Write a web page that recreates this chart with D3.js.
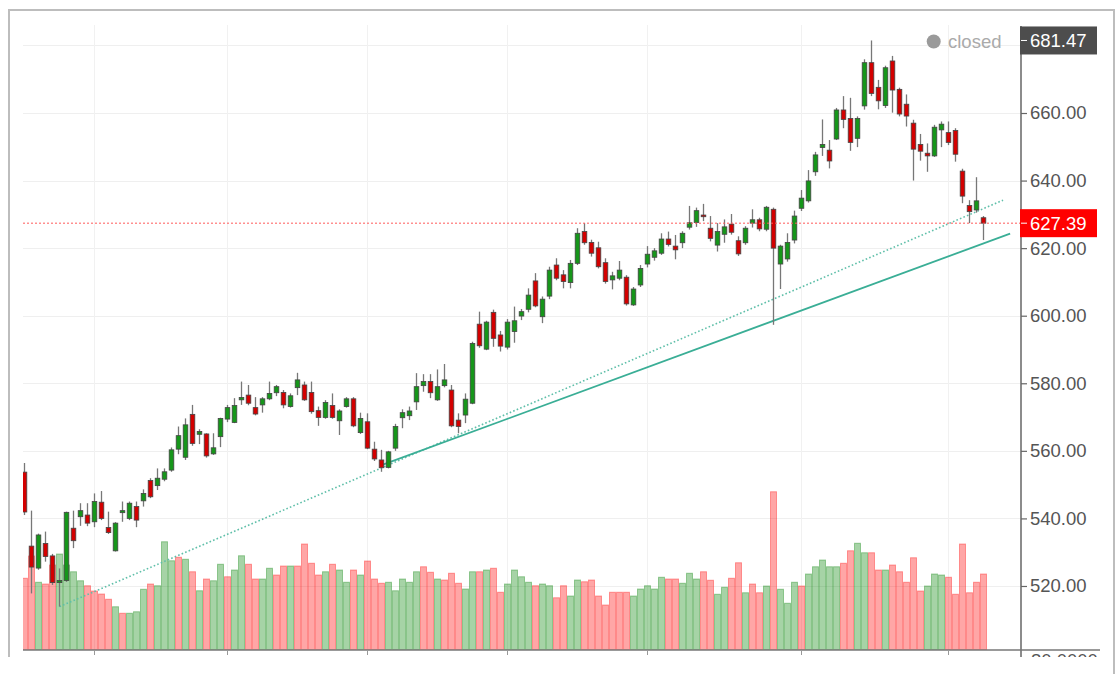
<!DOCTYPE html>
<html><head><meta charset="utf-8">
<script src="https://cdn.jsdelivr.net/npm/d3@7"></script>
<style>
body{margin:0;background:#fff;}
svg{display:block;font-family:"Liberation Sans",Arial,sans-serif;}
</style>
</head><body>
<svg id="chart" width="1120" height="674"></svg>
<script>
// ---- DATA (daily candles, index 0..137) ----
const open = [553.7,531.8,525.3,532.6,528.9,521.0,521.6,537.1,540.5,541.0,
539.0,544.8,537.3,530.4,541.7,540.0,543.5,545.2,551.2,549.7,
551.6,554.3,560.5,558.1,570.8,564.9,565.0,559.1,564.2,569.4,
568.4,575.1,576.5,572.8,573.6,575.4,577.2,577.3,573.1,578.7,
579.5,577.3,571.9,569.9,573.4,568.9,573.1,575.4,565.4,568.6,
560.5,557.3,555.1,560.8,569.8,570.4,574.5,579.3,580.5,575.1,
579.3,578.0,569.1,570.6,574.1,597.5,590.1,601.0,594.3,590.7,
595.3,599.9,601.9,610.3,599.7,605.8,615.0,612.1,609.8,615.5,
624.9,621.7,620.1,615.7,610.6,611.1,611.4,603.2,609.1,615.3,
617.3,618.5,622.7,620.6,621.6,626.2,627.6,629.8,625.9,620.9,
624.1,627.1,622.2,621.6,627.4,628.4,625.6,631.5,615.3,616.8,
622.4,631.8,634.0,642.6,649.8,649.0,652.3,660.9,658.4,652.5,
662.1,674.9,667.6,662.2,675.4,667.0,662.6,657.0,650.7,648.1,
647.3,655.0,654.2,654.8,642.8,632.6,631.3,629.0];
const high = [556.4,542.3,535.5,536.1,529.5,525.2,542.0,542.3,544.5,544.5,
547.4,548.1,542.0,538.9,545.0,545.0,545.0,548.6,551.9,554.8,
554.8,561.0,567.2,569.6,573.6,566.4,565.2,565.2,569.8,573.6,
575.6,580.5,579.5,575.9,575.9,580.5,579.5,578.0,577.0,583.1,
580.5,580.5,573.1,575.0,577.0,572.3,575.9,575.9,571.3,571.1,
562.7,560.3,560.0,568.0,572.3,573.1,583.0,582.7,582.7,584.1,
585.7,579.5,571.1,577.0,592.3,601.2,598.5,601.8,595.5,599.0,
602.7,602.0,608.1,612.6,605.7,614.5,617.0,613.5,616.5,625.9,
627.4,622.5,621.9,617.0,613.0,616.2,612.0,608.5,615.0,620.6,
620.0,624.4,624.9,623.9,625.0,632.5,632.0,633.1,629.5,627.4,
628.5,630.1,623.5,626.5,631.5,629.0,632.5,632.0,621.0,624.4,
631.1,637.2,643.1,648.5,658.1,652.0,661.5,665.0,664.5,659.0,
675.9,681.47,669.8,674.0,676.9,667.5,665.5,658.0,653.8,651.0,
656.5,657.5,657.5,655.5,643.5,634.2,641.0,629.5];
const low = [541.0,517.8,524.8,527.2,520.3,513.9,521.2,531.2,537.8,537.7,
537.4,539.5,535.4,530.2,539.0,539.5,537.4,543.5,546.0,548.4,
551.0,553.8,559.0,557.3,561.5,562.0,558.0,558.8,561.1,568.5,
568.2,573.6,573.5,570.5,571.3,575.0,576.2,572.6,572.8,576.5,
574.8,571.0,567.4,569.5,569.5,564.7,572.8,567.0,565.0,560.5,
557.0,553.8,554.8,560.0,566.7,569.1,572.1,577.5,575.6,574.8,
578.8,567.0,565.2,568.2,573.8,590.5,589.8,590.8,589.4,590.0,
592.0,598.7,601.0,602.5,597.8,604.9,610.5,608.1,608.1,615.0,
621.0,617.5,614.0,609.5,607.8,610.5,603.0,602.9,608.5,614.3,
616.3,618.0,620.5,616.7,620.0,625.5,626.3,628.0,622.0,619.0,
621.6,624.0,617.7,621.0,626.1,625.0,625.0,597.3,607.9,616.0,
621.4,631.0,633.5,641.4,647.3,643.6,652.0,655.5,648.8,649.9,
661.0,665.0,661.1,661.5,660.1,659.0,656.0,640.0,645.9,642.6,
647.0,649.9,650.5,645.6,633.3,627.4,630.5,622.4];
const close = [541.9,525.6,535.1,528.7,521.0,521.6,541.8,533.4,542.3,538.6,
545.0,540.0,535.8,538.6,542.3,544.5,539.5,547.4,546.4,551.9,
553.8,560.3,564.5,567.7,562.2,565.7,558.5,560.9,569.6,572.8,
573.4,575.8,574.1,570.9,575.4,577.0,579.0,573.6,576.3,581.0,
575.1,571.6,569.9,574.3,569.9,571.8,575.4,567.4,569.6,560.8,
557.6,555.0,559.7,567.2,571.3,571.8,579.0,580.5,577.2,579.0,
581.0,567.4,567.2,575.3,591.8,591.1,598.1,593.3,591.0,598.1,
598.5,601.2,606.1,602.9,604.9,613.5,611.1,610.1,615.5,624.4,
621.6,618.5,614.5,610.1,611.8,613.5,603.5,607.9,614.0,618.2,
619.2,622.7,621.1,619.5,624.4,627.5,631.1,629.3,622.9,624.9,
626.3,624.7,618.3,625.9,628.4,625.7,632.1,620.0,620.6,621.7,
629.5,634.8,639.9,647.6,650.7,645.8,660.9,658.1,651.3,658.4,
674.9,665.8,663.6,673.4,666.8,659.7,659.1,649.3,648.7,647.3,
655.8,656.7,651.3,647.8,635.4,630.8,634.0,627.39];
const volume = [2.87,3.76,2.71,2.64,3.40,3.84,3.40,3.13,2.77,2.57,
2.36,2.24,2.03,1.73,1.47,1.47,1.53,2.43,2.64,2.57,
4.33,3.57,3.71,3.63,3.13,2.37,2.84,2.77,3.43,2.93,
3.20,3.77,3.43,2.84,2.84,3.27,3.00,3.36,3.36,3.36,
4.24,3.47,3.00,3.13,3.43,3.20,2.71,3.20,3.00,3.56,
2.84,2.67,2.71,2.37,2.84,2.71,3.13,3.33,3.11,2.84,
2.80,3.07,2.67,2.44,3.13,3.13,3.20,3.27,2.31,2.64,
3.20,2.93,2.71,2.57,2.64,2.57,2.09,2.57,2.16,2.80,
2.73,2.80,2.16,1.80,2.31,2.31,2.31,2.16,2.44,2.57,
2.44,2.91,2.84,2.84,2.67,3.07,2.84,3.13,2.79,2.23,
2.51,2.87,3.49,2.29,2.64,2.29,2.56,6.33,2.43,1.87,
2.71,2.56,3.04,3.33,3.60,3.33,3.33,3.47,3.97,4.27,
3.89,3.89,3.20,3.20,3.40,3.13,2.71,3.69,2.36,2.56,
3.04,3.00,2.91,2.23,4.24,2.29,2.71,3.04];
// volume bar colour as read: G = up, R = down
const volumeDir = ("RRGRRGGGGR"+"RRRGRGGGRG"+"GGRGRGRGGR"+"GGRRGGRRGR"+"RRRGRGGRGR"+
  "RRGGGGGRRG"+"RRRGGRGRRG"+"GGGRGGRRGG"+"RRRRRRRGGG"+"GGRRGGGRRG"+
  "GRRGRRGRGG"+"GRGGGGGRRG"+"GRRGRRRRRG"+"GGRRRRRR").split("");
const monthStarts = [10, 29, 49, 69, 89, 111, 132];
const gridPrices = [520, 540, 560, 580, 600, 620, 640, 660, 680];
const yTicks = [520, 540, 560, 580, 600, 620, 640, 660];
const lastPrice = 627.39;
const highPrice = 681.47;
const trendSolid = [[51.2, 555.9], [140.8, 624.3]];
const trendDotted = [[5, 513.9], [139.8, 634.2]];
const legendLabel = "closed";

// ---- CHART ----
const svg = d3.select("#chart");
const L = 23, R = 1020, T = 25, B = 650;
const n = close.length;
const x = d3.scaleLinear().domain([0, n - 1]).range([24.5, 983.5]);
const y = d3.scaleLinear().domain([501.05, 686.05]).range([B, T]);
const yv = d3.scaleLinear().domain([0, 25]).range([B, T]);

svg.append("defs").append("clipPath").attr("id", "plotclip")
  .append("rect").attr("x", L).attr("y", T).attr("width", R - L).attr("height", B - T);

const g = svg.append("g").attr("clip-path", "url(#plotclip)");

// grid
g.selectAll(".hg").data(gridPrices).join("line")
  .attr("x1", L).attr("x2", R)
  .attr("y1", d => Math.round(y(d)) + 0.5).attr("y2", d => Math.round(y(d)) + 0.5)
  .attr("stroke", "#efefef").attr("stroke-width", 1);
g.selectAll(".vg").data(monthStarts).join("line")
  .attr("x1", d => x(d)).attr("x2", d => x(d))
  .attr("y1", T).attr("y2", B)
  .attr("stroke", "#f1f1f1").attr("stroke-width", 1);

// volume
const vdata = d3.range(n).map(i => ({i, v: volume[i], up: volumeDir[i] === "G"}));
g.selectAll(".vol").data(vdata).join("rect")
  .attr("x", d => x(d.i) - 3).attr("width", 6)
  .attr("y", d => yv(d.v)).attr("height", d => B - yv(d.v))
  .attr("fill", d => d.up ? "rgba(0,128,0,0.35)" : "rgba(255,0,0,0.35)")
  .attr("stroke", d => d.up ? "rgba(0,128,0,0.35)" : "rgba(255,0,0,0.35)")
  .attr("stroke-width", 1);

// trend lines
const tl = d3.line().x(d => x(d[0])).y(d => y(d[1]));
g.append("path").attr("d", tl(trendDotted)).attr("fill", "none")
  .attr("stroke", "#5fbfa9").attr("stroke-width", 1.6).attr("stroke-dasharray", "1.6,2.2");
g.append("path").attr("d", tl(trendSolid)).attr("fill", "none")
  .attr("stroke", "#3aae96").attr("stroke-width", 1.8);

// candles
const cdata = d3.range(n).map(i => ({i, o: open[i], h: high[i], l: low[i], c: close[i]}));
const cg = g.selectAll(".candle").data(cdata).join("g");
cg.append("line")
  .attr("x1", d => x(d.i)).attr("x2", d => x(d.i))
  .attr("y1", d => y(d.h)).attr("y2", d => y(d.l))
  .attr("stroke", "#777").attr("stroke-width", 1.3);
cg.append("rect")
  .attr("x", d => x(d.i) - 2.3).attr("width", 4.6)
  .attr("y", d => y(Math.max(d.o, d.c)))
  .attr("height", d => Math.max(1.5, Math.abs(y(d.o) - y(d.c))))
  .attr("fill", d => d.c >= d.o ? "#16961a" : "#d30000")
  .attr("stroke", "#444").attr("stroke-width", 0.8);

// last price line
g.append("line").attr("x1", L).attr("x2", R)
  .attr("y1", y(lastPrice)).attr("y2", y(lastPrice))
  .attr("stroke", "#ff5a5a").attr("stroke-width", 1).attr("stroke-dasharray", "2,2");

// axes
const fs = "18.5px";
const ax = svg.append("g").attr("transform", `translate(${R + 1},0)`)
  .call(d3.axisRight(y).tickValues(yTicks).tickSize(6).tickPadding(3).tickFormat(d => d.toFixed(2)));
ax.select(".domain").remove();
ax.selectAll(".tick line").attr("stroke", "#666").attr("stroke-width", 1.2);
ax.selectAll(".tick text").attr("fill", "#555").style("font-size", fs)
  .style("font-family", '"Liberation Sans",Arial,sans-serif');
svg.append("line").attr("x1", R + 1).attr("x2", R + 1).attr("y1", T + 1).attr("y2", 657)
  .attr("stroke", "#666").attr("stroke-width", 1.5);
svg.append("line").attr("x1", L).attr("x2", 1100).attr("y1", B).attr("y2", B)
  .attr("stroke", "#777").attr("stroke-width", 1.5);
svg.selectAll(".xt").data(monthStarts).join("line")
  .attr("x1", d => x(d)).attr("x2", d => x(d)).attr("y1", B).attr("y2", B + 5)
  .attr("stroke", "#999").attr("stroke-width", 1);
// clipped label of lower panel
svg.append("text").attr("x", 1031).attr("y", 667).attr("fill", "#555")
  .style("font-size", fs).text("80.0000");

// value boxes
function valueBox(price, bg) {
  const cy = y(price);
  svg.append("rect").attr("x", R).attr("y", cy - 14).attr("width", 77).attr("height", 28).attr("fill", bg);
  svg.append("line").attr("x1", R + 1).attr("x2", R + 7).attr("y1", cy).attr("y2", cy)
    .attr("stroke", "#fff").attr("stroke-width", 1);
  svg.append("text").attr("x", 1030).attr("y", cy + 7).attr("fill", "#fff")
    .style("font-size", fs).text(price.toFixed(2));
}
valueBox(highPrice, "#4d4d4d");
valueBox(lastPrice, "#ff0000");

// legend
svg.append("circle").attr("cx", 933.7).attr("cy", 41.5).attr("r", 7).attr("fill", "#9a9a9a");
svg.append("text").attr("x", 948).attr("y", 48).attr("fill", "#aaaaaa").style("font-size", fs).text(legendLabel);

// cut-off bottom area and frame
svg.append("rect").attr("x", 10).attr("y", 657).attr("width", 1103).attr("height", 17).attr("fill", "#fff");
svg.append("path").attr("d", "M9,657V10H1114V674").attr("fill", "none")
  .attr("stroke", "#bdbdbd").attr("stroke-width", 2);
</script>
</body></html>
